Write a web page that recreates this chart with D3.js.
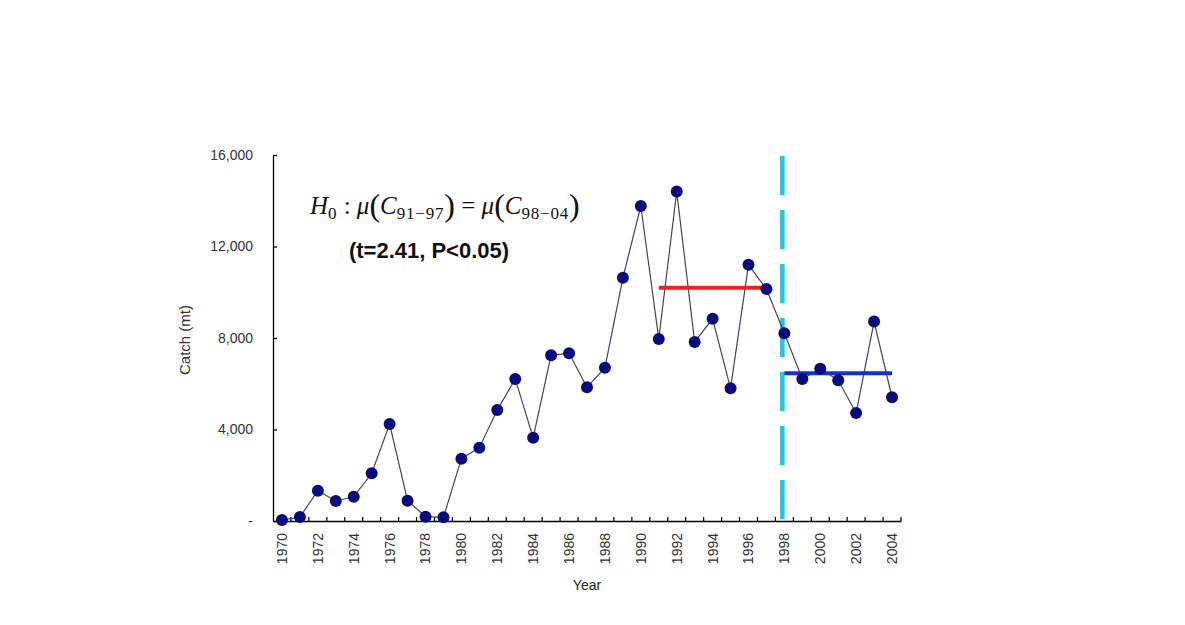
<!DOCTYPE html>
<html>
<head>
<meta charset="utf-8">
<script src="https://cdn.jsdelivr.net/npm/d3@7"></script>
<style>
  html, body { margin: 0; padding: 0; background: #fff; }
  svg { display: block; }
</style>
</head>
<body>
<svg id="chart" width="1185" height="625"></svg>
<script>
// ---- Data ----
const years = d3.range(1970, 2005);
const catch_mt = [40, 175, 1325, 875, 1060, 2085, 4240, 890, 190, 160,
  2725, 3205, 4850, 6210, 3640, 7250, 7330, 5845, 6700, 10630,
  13770, 7960, 14400, 7830, 8840, 5800, 11200, 10140, 8210, 6210,
  6660, 6150, 4720, 8720, 5410];
const yTicks = [0, 4000, 8000, 12000, 16000];
const xTickLabels = years.filter(yr => (yr - 1970) % 2 === 0);
const meanBefore = { from: 1991, to: 1997, value: 10200 };
const meanAfter = { from: 1998, to: 2004, value: 6460 };
const breakYear = 1998;

// ---- Layout ----
const svg = d3.select("#chart");
const pL = 273, pR = 901, pT = 155, pB = 521;

const x = d3.scaleBand().domain(years).range([pL, pR]).padding(0);
const cx = d => x(d) + x.bandwidth() / 2;
const y = d3.scaleLinear().domain([0, 16000]).range([pB, pT]);

const axisFont = "'Liberation Sans', Arial, sans-serif";

// Y axis
const yAxis = d3.axisLeft(y).tickValues(yTicks).tickSizeInner(-4).tickSizeOuter(0)
  .tickPadding(20)
  .tickFormat(d => d === 0 ? "-" : d3.format(",")(d));
const gy = svg.append("g").attr("transform", `translate(${pL},0)`).call(yAxis);
gy.select(".domain").attr("stroke", "#000").attr("stroke-width", 1.3);
gy.selectAll(".tick line").attr("stroke", "#000").attr("stroke-width", 1.3);
gy.selectAll(".tick text").attr("font-family", axisFont).attr("font-size", 14).attr("fill", "#333");

// X axis
const xAxis = d3.axisBottom(x).tickValues(xTickLabels).tickSizeInner(0).tickSizeOuter(0);
const gx = svg.append("g").attr("transform", `translate(0,${pB})`).call(xAxis);
gx.select(".domain").attr("stroke", "#000").attr("stroke-width", 1.3);
gx.selectAll(".tick text")
  .attr("font-family", axisFont).attr("font-size", 14).attr("fill", "#333")
  .attr("transform", "rotate(-90)")
  .attr("x", -12).attr("y", 0).attr("dy", "0.35em")
  .style("text-anchor", "end");
// category boundary ticks (inside)
const boundaries = years.map(d => x(d)).concat([x.range()[1]]).slice(1);
svg.append("g").selectAll("line").data(boundaries).join("line")
  .attr("x1", d => d).attr("x2", d => d)
  .attr("y1", pB).attr("y2", pB - 4)
  .attr("stroke", "#000").attr("stroke-width", 1.2);

// Axis titles
svg.append("text").attr("x", 587).attr("y", 590).attr("text-anchor", "middle")
  .attr("font-family", axisFont).attr("font-size", 14).attr("fill", "#222").text("Year");
svg.append("text").attr("transform", "translate(190,340) rotate(-90)").attr("text-anchor", "middle")
  .attr("font-family", axisFont).attr("font-size", 15).attr("fill", "#333").text("Catch (mt)");

// Dashed break line
svg.append("line")
  .attr("x1", cx(breakYear) - 2).attr("x2", cx(breakYear) - 2)
  .attr("y1", pT + 1).attr("y2", pB)
  .attr("stroke", "#1EC6E6").attr("stroke-width", 4.5)
  .attr("stroke-dasharray", "39,15");

// Series line
const data = years.map((yr, i) => ({ yr, v: catch_mt[i] }));
svg.append("path").datum(data)
  .attr("fill", "none").attr("stroke", "#44445f").attr("stroke-width", 1.2)
  .attr("d", d3.line().x(d => cx(d.yr)).y(d => y(d.v)));

// Mean lines
svg.append("line")
  .attr("x1", cx(meanBefore.from)).attr("x2", cx(meanBefore.to) - 2)
  .attr("y1", y(meanBefore.value)).attr("y2", y(meanBefore.value))
  .attr("stroke", "#E8221E").attr("stroke-width", 4);
svg.append("line")
  .attr("x1", cx(meanAfter.from)).attr("x2", cx(meanAfter.to))
  .attr("y1", y(meanAfter.value)).attr("y2", y(meanAfter.value))
  .attr("stroke", "#1530D0").attr("stroke-width", 4);

// Points
svg.append("g").selectAll("circle").data(data).join("circle")
  .attr("cx", d => cx(d.yr)).attr("cy", d => y(d.v)).attr("r", 6)
  .attr("fill", "#0A0A80");

// Formula
const serif = "'Liberation Serif', 'Times New Roman', serif";
const f = svg.append("text").attr("x", 310).attr("y", 214)
  .attr("font-family", serif).attr("font-size", 25).attr("fill", "#111");
const parts = [
  { t: "H", it: true },
  { t: "0", sub: true },
  { t: " : " },
  { t: "μ", it: true },
  { t: "(", big: true },
  { t: "C", it: true },
  { t: "91−97", sub: true },
  { t: ")", big: true },
  { t: " = " },
  { t: "μ", it: true },
  { t: "(", big: true },
  { t: "C", it: true },
  { t: "98−04", sub: true },
  { t: ")", big: true }
];
let shifted = 0;
parts.forEach(p => {
  const ts = f.append("tspan").text(p.t);
  if (p.it) ts.attr("font-style", "italic");
  const targetShift = p.sub ? 5 : (p.big ? 2 : 0);
  ts.attr("dy", targetShift - shifted);
  shifted = targetShift;
  if (p.sub) ts.attr("font-size", 17).attr("letter-spacing", 0.8);
  if (p.big) ts.attr("font-size", 32);
});

svg.append("text").attr("x", 429).attr("y", 258).attr("text-anchor", "middle")
  .attr("font-family", axisFont).attr("font-weight", "bold").attr("font-size", 22)
  .attr("fill", "#111").text("(t=2.41, P<0.05)");
</script>
</body>
</html>
